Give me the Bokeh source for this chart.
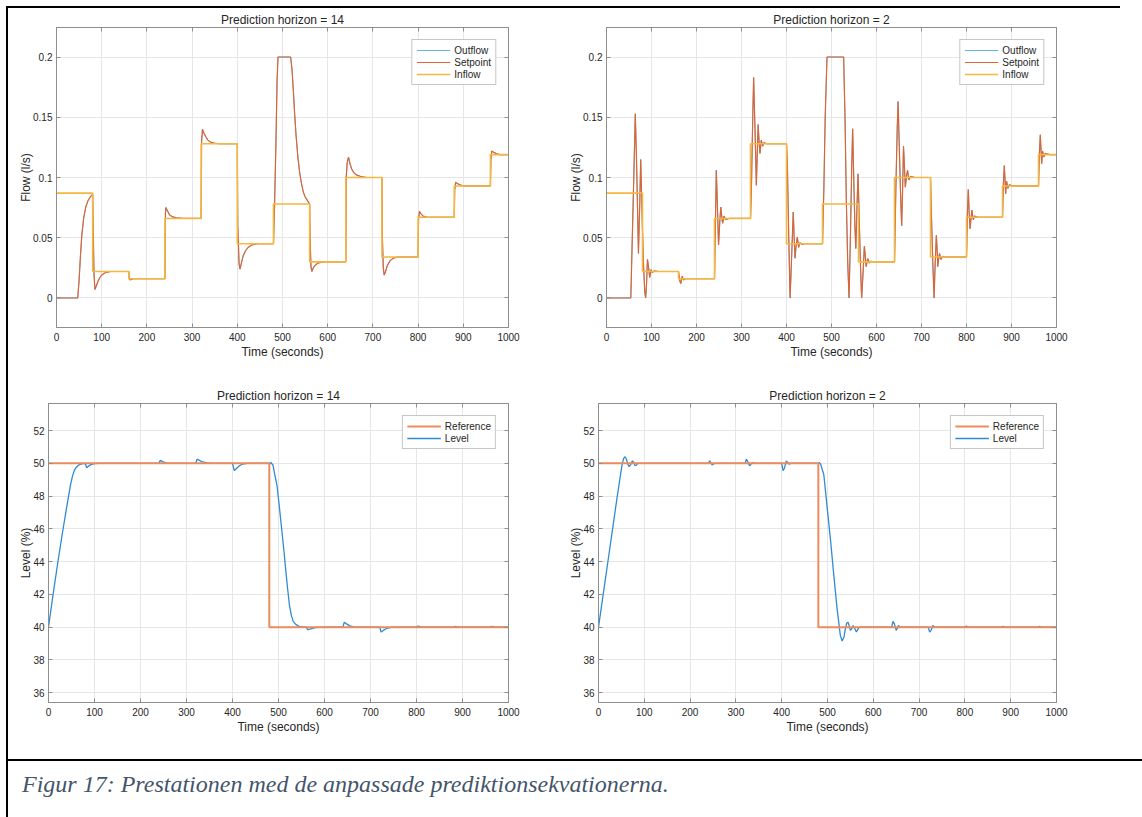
from bokeh.plotting import figure
from bokeh.models import Range1d, FixedTicker, LinearAxis, Legend, LegendItem, Div, Spacer
from bokeh.layouts import row, column
from bokeh.embed import file_html
from bokeh.resources import INLINE

# ---------------------------------------------------------------- data
# Inflow disturbance: one value per 80 s interval (step signal)
inflow_time = [0, 80, 160, 240, 320, 400, 480, 560, 640, 720, 800, 880, 960, 1000]
inflow_flow = [0.087, 0.022, 0.016, 0.066, 0.128, 0.045, 0.078, 0.030, 0.100,
               0.034, 0.067, 0.093, 0.119, 0.119]

# Level reference (%)
reference_time = [0, 480, 1000]
reference_level = [50, 40, 40]

# Pump setpoint, prediction horizon 14: (time s, flow l/s)
setpoint_ph14 = [
    (0, 0), (47, 0), (50, 0.015), (53, 0.035), (56, 0.052), (60, 0.066), (65, 0.076),
    (70, 0.081), (75, 0.084), (80, 0.086), (81, 0.06), (83, 0.02), (85, 0.007),
    (88, 0.010), (92, 0.014), (96, 0.017), (100, 0.019), (108, 0.021), (120, 0.022),
    (160, 0.022), (161, 0.016), (163, 0.015), (170, 0.016), (240, 0.016),
    (241, 0.070), (242, 0.075), (246, 0.072), (250, 0.069), (256, 0.0675),
    (265, 0.0665), (280, 0.066), (320, 0.066), (321, 0.130), (323, 0.140),
    (326, 0.137), (330, 0.134), (335, 0.131), (340, 0.1295), (348, 0.1285),
    (360, 0.128), (400, 0.128), (401, 0.060), (404, 0.028), (406, 0.024),
    (409, 0.029), (413, 0.035), (418, 0.039), (424, 0.042), (432, 0.044),
    (445, 0.045), (480, 0.045), (482, 0.07), (485, 0.12), (488, 0.18), (490, 0.2),
    (518, 0.2), (521, 0.19), (524, 0.172), (527, 0.152), (530, 0.135), (534, 0.117),
    (538, 0.104), (542, 0.095), (546, 0.088), (550, 0.084), (555, 0.081),
    (560, 0.078), (561, 0.05), (563, 0.026), (565, 0.022), (568, 0.025),
    (572, 0.027), (578, 0.029), (590, 0.030), (640, 0.030), (641, 0.10),
    (643, 0.112), (646, 0.117), (649, 0.112), (653, 0.107), (658, 0.104),
    (664, 0.102), (672, 0.101), (685, 0.100), (720, 0.100), (721, 0.05),
    (723, 0.025), (725, 0.019), (728, 0.022), (732, 0.027), (738, 0.031),
    (745, 0.033), (755, 0.034), (800, 0.034), (801, 0.065), (803, 0.072),
    (806, 0.070), (811, 0.068), (820, 0.067), (880, 0.067), (881, 0.090),
    (883, 0.096), (887, 0.095), (892, 0.094), (900, 0.093), (960, 0.093),
    (961, 0.115), (963, 0.122), (967, 0.121), (972, 0.120), (980, 0.119),
    (1000, 0.119),
]

# Pump setpoint, prediction horizon 2
setpoint_ph2 = [
    (0, 0), (54, 0), (59, 0.075), (64, 0.153), (67, 0.11), (71, 0.037), (74, 0.08),
    (76, 0.115), (79, 0.07), (82, 0.03), (85, 0.005), (87, 0.0), (89, 0.012),
    (91, 0.032), (94, 0.024), (96, 0.017), (99, 0.0235), (102, 0.021),
    (106, 0.0225), (115, 0.022), (160, 0.022), (163, 0.014), (165, 0.012),
    (168, 0.018), (171, 0.015), (175, 0.016), (240, 0.016), (242, 0.06),
    (244, 0.106), (247, 0.07), (249, 0.044), (252, 0.065), (254, 0.0755),
    (256, 0.068), (258, 0.062), (261, 0.068), (265, 0.065), (272, 0.066),
    (320, 0.066), (322, 0.09), (325, 0.15), (327, 0.183), (330, 0.14),
    (333, 0.0935), (335, 0.12), (337, 0.144), (339, 0.13), (341, 0.12),
    (344, 0.131), (347, 0.126), (350, 0.129), (356, 0.128), (400, 0.128),
    (402, 0.11), (405, 0.05), (408, 0.0), (411, 0.03), (415, 0.0714), (417, 0.05),
    (419, 0.033), (421, 0.042), (424, 0.0506), (427, 0.042), (430, 0.046),
    (434, 0.0445), (440, 0.045), (480, 0.045), (483, 0.09), (486, 0.15),
    (490, 0.2), (527, 0.2), (530, 0.15), (533, 0.08), (536, 0.03), (539, 0.0),
    (542, 0.05), (545, 0.11), (547, 0.1405), (550, 0.09), (552, 0.06),
    (554, 0.041), (557, 0.08), (559, 0.103), (562, 0.06), (565, 0.02), (567, 0.0),
    (570, 0.02), (573, 0.043), (575, 0.035), (577, 0.026), (579, 0.03),
    (581, 0.0326), (584, 0.029), (588, 0.0305), (595, 0.030), (640, 0.030),
    (643, 0.09), (646, 0.14), (648, 0.163), (651, 0.12), (654, 0.08), (656, 0.060),
    (658, 0.09), (660, 0.126), (662, 0.11), (664, 0.092), (667, 0.102),
    (669, 0.106), (672, 0.098), (676, 0.101), (685, 0.100), (720, 0.100),
    (722, 0.07), (725, 0.03), (728, 0.0), (730, 0.025), (733, 0.052), (735, 0.038),
    (736, 0.026), (738, 0.032), (740, 0.037), (743, 0.032), (747, 0.0345),
    (755, 0.034), (800, 0.034), (802, 0.07), (804, 0.090), (806, 0.07),
    (808, 0.0575), (810, 0.066), (812, 0.073), (815, 0.065), (818, 0.068),
    (825, 0.067), (880, 0.067), (882, 0.095), (884, 0.110), (886, 0.095),
    (887, 0.0866), (889, 0.097), (892, 0.091), (895, 0.094), (902, 0.093),
    (960, 0.093), (962, 0.12), (964, 0.1355), (966, 0.12), (967, 0.1115),
    (969, 0.122), (972, 0.117), (975, 0.120), (985, 0.119), (1000, 0.119),
]

# Measured outflow follows the setpoint
outflow_ph14 = list(setpoint_ph14)
outflow_ph2 = list(setpoint_ph2)

# Tank level (%), prediction horizon 14
level_ph14 = [
    (0, 40), (10, 42), (20, 43.9), (30, 45.7), (40, 47.4), (48, 48.7), (52, 49.2),
    (56, 49.55), (60, 49.75), (66, 49.9), (72, 49.97), (80, 50.0), (83, 49.72),
    (86, 49.8), (92, 49.92), (100, 49.98), (110, 50), (240, 50), (243, 50.18),
    (248, 50.1), (255, 50.03), (265, 50), (320, 50), (323, 50.25), (328, 50.18),
    (335, 50.08), (345, 50.02), (355, 50), (400, 50), (404, 49.55), (409, 49.7),
    (415, 49.85), (422, 49.95), (432, 50), (480, 50), (483, 50.05), (488, 49.9),
    (492, 49.3), (497, 48.6), (502, 47.3), (508, 45.7), (512, 44.6), (516, 43.4),
    (520, 42.3), (524, 41.3), (528, 40.7), (532, 40.35), (538, 40.15),
    (545, 40.05), (556, 40.0), (560, 40.0), (564, 39.84), (570, 39.9),
    (580, 39.97), (595, 40), (640, 40), (643, 40.3), (648, 40.2), (655, 40.08),
    (665, 40), (720, 40), (723, 39.7), (728, 39.8), (735, 39.92), (745, 39.98),
    (755, 40), (800, 40), (803, 40.06), (810, 40.01), (880, 40), (883, 40.04),
    (890, 40.01), (960, 40), (963, 40.04), (970, 40.01), (1000, 40),
]

# Tank level (%), prediction horizon 2
level_ph2 = [
    (0, 40), (10, 41.95), (20, 43.9), (30, 45.85), (40, 47.8), (48, 49.3),
    (52, 50.0), (55, 50.3), (58, 50.4), (61, 50.25), (64, 49.95), (67, 49.8),
    (70, 49.9), (74, 50.15), (77, 50.05), (80, 49.85), (83, 49.9), (86, 50.0),
    (90, 50), (240, 50), (243, 50.15), (246, 50.0), (248, 49.9), (251, 49.97),
    (255, 50), (320, 50), (323, 50.25), (326, 50.1), (330, 49.85), (333, 49.95),
    (336, 50.05), (340, 50), (400, 50), (403, 49.55), (406, 49.7), (410, 50.15),
    (413, 50.05), (416, 49.95), (420, 50), (480, 50), (482, 50.05), (485, 49.95),
    (492, 49.3), (500, 47.1), (507, 45.2), (514, 43.1), (521, 41.1), (525, 40.2),
    (528, 39.5), (532, 39.15), (536, 39.4), (539, 39.9), (542, 40.25),
    (545, 40.3), (548, 40.0), (550, 39.8), (553, 39.9), (556, 40.1),
    (559, 39.95), (563, 39.7), (566, 39.85), (569, 40.0), (575, 40), (640, 40),
    (643, 40.35), (646, 40.2), (650, 39.8), (653, 39.95), (655, 40.1),
    (658, 40.0), (720, 40), (723, 39.7), (726, 39.8), (730, 40.1), (734, 40),
    (800, 40), (803, 40.07), (807, 40.0), (880, 40), (883, 40.05), (887, 40),
    (960, 40), (963, 40.05), (967, 40), (1000, 40),
]

time_ticks = list(range(0, 1001, 100))
flow_ticks = [0, 0.05, 0.1, 0.15, 0.2]
flow_tick_labels = ["0", "0.05", "0.1", "0.15", "0.2"]
level_ticks = [36, 38, 40, 42, 44, 46, 48, 50, 52]

# ---------------------------------------------------------------- style
FONT = "Liberation Sans"
TEXT = "#262626"
FRAME = "#8e8e8e"
GRID = "#e6e6e6"
C_OUT = "#5cb6e8"
C_SET = "#dd6534"
C_IN = "#f4b840"
C_LEVEL = "#2f8bd2"
C_REF = "#ec8b5e"


def split(pairs):
    return [p[0] for p in pairs], [p[1] for p in pairs]


def make_axes(width, height, left, right, top, bottom, title, ylabel,
              y_start, y_end, yticks, ylabels=None):
    p = figure(width=width, height=height, output_backend="svg",
               toolbar_location=None,
               x_range=Range1d(0, 1000), y_range=Range1d(y_start, y_end),
               min_border_left=left, min_border_right=right,
               min_border_top=top, min_border_bottom=bottom,
               background_fill_color="white", border_fill_color="white")
    p.title.text = title
    p.title.align = "center"
    p.title.text_font = FONT
    p.title.text_font_size = "12px"
    p.title.text_font_style = "normal"
    p.title.text_color = TEXT
    p.title.standoff = 2
    p.title.offset = 0

    p.outline_line_color = FRAME
    p.outline_line_width = 1

    p.xaxis.axis_label = "Time (seconds)"
    p.yaxis.axis_label = ylabel
    p.xaxis.ticker = FixedTicker(ticks=time_ticks)
    p.yaxis.ticker = FixedTicker(ticks=yticks)
    if ylabels:
        p.yaxis.major_label_overrides = dict(zip(yticks, ylabels))
    for ax in (p.xaxis[0], p.yaxis[0]):
        ax.axis_line_color = FRAME
        ax.major_tick_line_color = FRAME
        ax.major_tick_in = 4
        ax.major_tick_out = 0
        ax.minor_tick_line_color = None
        ax.major_label_text_font = FONT
        ax.major_label_text_font_size = "10px"
        ax.major_label_text_color = TEXT
        ax.major_label_standoff = 5
        ax.axis_label_text_font = FONT
        ax.axis_label_text_font_size = "12px"
        ax.axis_label_text_font_style = "normal"
        ax.axis_label_text_color = TEXT
    p.xaxis.axis_label_standoff = 1
    p.yaxis.axis_label_standoff = -3
    p.yaxis.major_label_standoff = 4

    p.xgrid.ticker = FixedTicker(ticks=time_ticks)
    p.ygrid.ticker = FixedTicker(ticks=yticks)
    p.grid.grid_line_color = GRID
    p.grid.grid_line_width = 1

    # box with inward ticks on the top and right edges too (no labels there)
    top_ax = LinearAxis(ticker=FixedTicker(ticks=time_ticks))
    right_ax = LinearAxis(ticker=FixedTicker(ticks=yticks))
    for ax in (top_ax, right_ax):
        ax.axis_line_color = FRAME
        ax.major_tick_line_color = FRAME
        ax.major_tick_in = 4
        ax.major_tick_out = 0
        ax.minor_tick_line_color = None
        ax.major_label_text_color = None
        ax.major_label_text_font_size = "1px"
        ax.major_label_standoff = 0
    p.add_layout(top_ax, "above")
    p.add_layout(right_ax, "right")
    return p


def style_legend(legend):
    legend.location = "top_right"
    legend.margin = 12
    legend.padding = 4
    legend.spacing = 0
    legend.glyph_width = 34
    legend.glyph_height = 12
    legend.label_height = 12
    legend.label_standoff = 4
    legend.label_text_font = FONT
    legend.label_text_font_size = "10px"
    legend.label_text_color = TEXT
    legend.border_line_color = FRAME
    legend.border_line_width = 1
    legend.background_fill_color = "white"
    legend.background_fill_alpha = 1.0


def flow_panel(width, left, right, title, setpoint, outflow):
    p = make_axes(width, 372, left, right, 19, 53, title, "Flow (l/s)",
                  -0.0245, 0.2245, flow_ticks, flow_tick_labels)
    ot, ov = split(outflow)
    st, sv = split(setpoint)
    r_out = p.line(ot, ov, line_color=C_OUT, line_width=1.0)
    r_set = p.line(st, sv, line_color=C_SET, line_width=1.2)
    r_in = p.step(inflow_time, inflow_flow, mode="after", line_color=C_IN, line_width=1.6)
    legend = Legend(items=[LegendItem(label="Outflow", renderers=[r_out]),
                           LegendItem(label="Setpoint", renderers=[r_set]),
                           LegendItem(label="Inflow", renderers=[r_in])])
    style_legend(legend)
    # the legend sample for the outflow is drawn a little thicker
    r_out.glyph.line_width = 1.0
    p.add_layout(legend)
    return p


def level_panel(width, left, right, title, level):
    p = make_axes(width, 379, left, right, 23, 57, title, "Level (%)",
                  35.4, 53.65, level_ticks)
    lt, lv = split(level)
    r_lev = p.line(lt, lv, line_color=C_LEVEL, line_width=1.3)
    r_ref = p.step(reference_time, reference_level, mode="after",
                   line_color=C_REF, line_width=2)
    legend = Legend(items=[LegendItem(label="Reference", renderers=[r_ref]),
                           LegendItem(label="Level", renderers=[r_lev])])
    style_legend(legend)
    p.add_layout(legend)
    return p


f1 = flow_panel(540, 48, 40, "Prediction horizon = 14", setpoint_ph14, outflow_ph14)
f2 = flow_panel(594, 58, 86, "Prediction horizon = 2", setpoint_ph2, outflow_ph2)
f3 = level_panel(540, 40, 40, "Prediction horizon = 14", level_ph14)
f4 = level_panel(594, 50, 86, "Prediction horizon = 2", level_ph2)


def rule(width, height):
    return Div(text="", width=width, height=height, margin=0,
               styles={"background-color": "black"})


caption = Div(
    text=('<div style="font-family: \'Liberation Serif\', serif; font-style: italic; '
          'font-size: 24px; color: #44546A; padding: 6px 0 0 14px; white-space: nowrap;">'
          'Figur 17: Prestationen med de anpassade prediktionsekvationerna.</div>'),
    width=1134, height=56, margin=0)

content = column(
    rule(1112, 2),
    row(f1, f2, spacing=0, margin=0),
    row(f3, f4, spacing=0, margin=0),
    rule(1134, 2),
    caption,
    spacing=0, margin=0,
)
page = column(
    Spacer(height=6, width=1142, margin=0),
    row(Spacer(width=6, height=811, margin=0), rule(2, 811), content, spacing=0, margin=0),
    spacing=0, margin=0,
)

with open("out.html", "w") as fh:
    fh.write(file_html(page, INLINE, title="Prediction horizon"))
